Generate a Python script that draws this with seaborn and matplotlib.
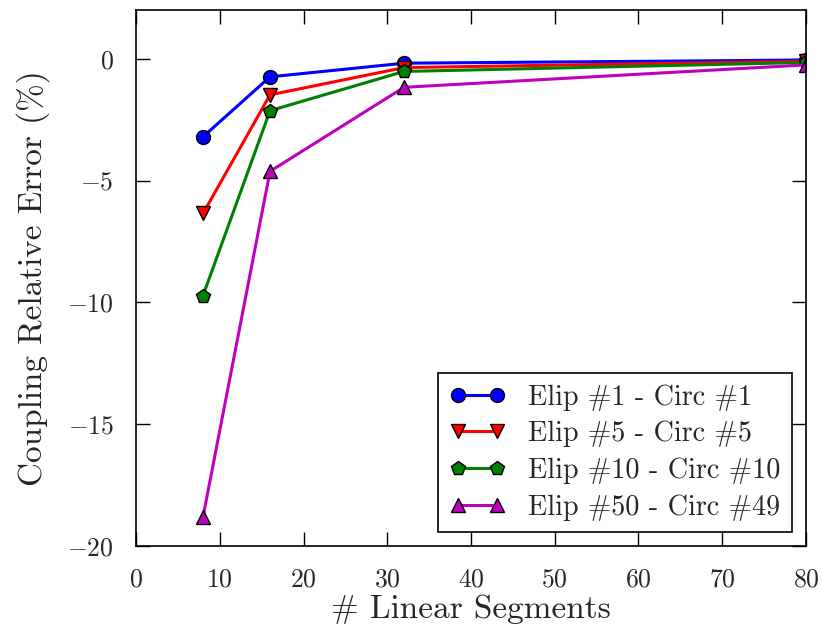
import numpy as np
import pandas as pd
import matplotlib
matplotlib.use("Agg")
import matplotlib.pyplot as plt
import seaborn as sns

# ------- Data -------
segments = [8, 16, 32, 80]
elip1 = [-3.20, -0.74, -0.18, -0.05]
elip5 = [-6.35, -1.48, -0.36, -0.10]
elip10 = [-9.72, -2.13, -0.52, -0.15]
elip50 = [-18.8, -4.62, -1.17, -0.25]

labels = ["Elip #1 - Circ #1", "Elip #5 - Circ #5",
          "Elip #10 - Circ #10", "Elip #50 - Circ #49"]
colors = ["#0000ff", "#ff0000", "#008000", "#bf00bf"]
markers = ["o", "v", "p", "^"]

sns.set_style("ticks")
plt.rcParams["font.family"] = ["cmr10"]
plt.rcParams["mathtext.fontset"] = "cm"
plt.rcParams["axes.formatter.use_mathtext"] = True
plt.rcParams["axes.unicode_minus"] = True

fig = plt.figure(figsize=(8.22, 6.3), dpi=100)
ax = fig.add_axes([0.1655, 0.1333, 0.815, 0.8507])

for vals, lab, col, mk in zip([elip1, elip5, elip10, elip50], labels, colors, markers):
    sns.lineplot(x=segments, y=vals, ax=ax, label=lab, color=col, marker=mk,
                 markersize=10, markeredgecolor="black", markeredgewidth=1.0,
                 linewidth=2.2)

ax.set_xlim(0, 80)
ax.set_ylim(-20, 2)
ax.set_xticks(np.arange(0, 81, 10))
ax.set_yticks([-20, -15, -10, -5, 0])
ax.tick_params(direction="in", length=10, width=1, top=True, right=True,
               labelsize=18.5, pad=16, color="black")
for sp in ax.spines.values():
    sp.set_color("black")
    sp.set_linewidth(1.2)

ax.set_xlabel("# Linear Segments", fontsize=24, labelpad=2)
ax.set_ylabel("Coupling Relative Error (%)", fontsize=24, labelpad=12)

leg = ax.legend(loc="lower right", numpoints=2, fontsize=20.3, fancybox=False,
                edgecolor="black", framealpha=1, borderaxespad=0.5,
                handlelength=2.0, handletextpad=0.8, labelspacing=0.36)
leg.get_frame().set_linewidth(1.2)

fig.savefig("out.png", dpi=100)
